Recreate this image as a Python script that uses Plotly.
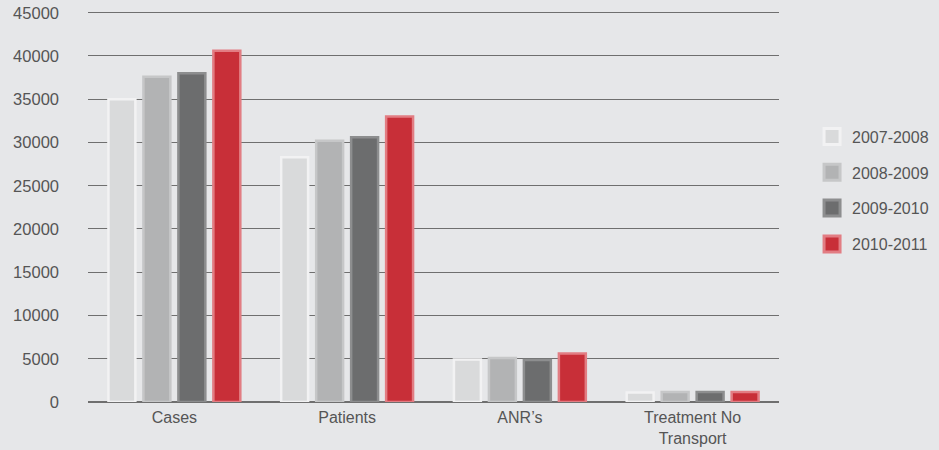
import plotly.graph_objects as go

categories = ["Cases", "Patients", "ANR\u2019s", "Treatment No<br>Transport"]
series_names = ["2007-2008", "2008-2009", "2009-2010", "2010-2011"]
v_2007_2008 = [35000, 28300, 4900, 1100]
v_2008_2009 = [37600, 30200, 5100, 1150]
v_2009_2010 = [38000, 30600, 4850, 1150]
v_2010_2011 = [40600, 33000, 5600, 1150]
values = [v_2007_2008, v_2008_2009, v_2009_2010, v_2010_2011]
y_ticks = [0, 5000, 10000, 15000, 20000, 25000, 30000, 35000, 40000, 45000]

fills = ["#d9dadb", "#b2b3b4", "#6c6d6e", "#c82f38"]
edges = ["#f2f2f3", "#c6c7c8", "#8d8e8f", "#e27d83"]

FONT = "Liberation Sans, Arial, Helvetica, sans-serif"
BG = "#e6e7e9"

fig = go.Figure()
for name, vals, f, e in zip(series_names, values, fills, edges):
    fig.add_trace(go.Bar(
        name=name, x=categories, y=vals, showlegend=False,
        marker=dict(color=f, line=dict(color=e, width=2.5)),
    ))
# legend entries with larger square swatches
for name, f, e in zip(series_names, fills, edges):
    fig.add_trace(go.Scatter(
        name=name, x=[None], y=[None], mode="markers", legendgroup=name,
        marker=dict(symbol="square", size=22, color=f, line=dict(color=e, width=3)),
    ))

fig.update_layout(
    width=939, height=450,
    paper_bgcolor=BG, plot_bgcolor=BG,
    margin=dict(l=88, r=160, t=11.3, b=47.5, autoexpand=False),
    barmode="group", bargap=0.19, bargroupgap=0.23,
    font=dict(family=FONT, size=16.5, color="#555555"),
    showlegend=True,
    legend=dict(
        xref="container", yref="container",
        x=0.8648, y=0.7342, xanchor="left", yanchor="top",
        bgcolor="rgba(0,0,0,0)", tracegroupgap=12, itemsizing="trace",
        font=dict(family=FONT, size=16, color="#555555"),
    ),
    xaxis=dict(showgrid=False, showline=False, ticks="", automargin=False,
               ticklabelstandoff=4, tickfont=dict(size=16, color="#555555")),
    yaxis=dict(
        range=[0, 45200], tickvals=y_ticks,
        showgrid=True, gridcolor="#6f6f6f", gridwidth=1,
        zeroline=True, zerolinecolor="#6f6f6f", zerolinewidth=1.5,
        showline=False, ticks="", ticklabelstandoff=28, automargin=False,
        tickformat="d", tickfont=dict(size=16.5, color="#555555"),
    ),
)

fig.write_html("out.html", config={"displayModeBar": False},
               post_script="document.body.style.margin='0';")
